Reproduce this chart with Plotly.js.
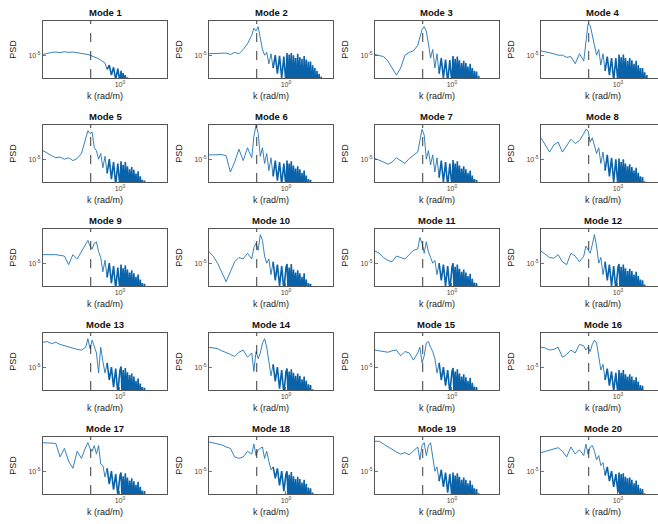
<!DOCTYPE html>
<html><head><meta charset="utf-8">
<script src="https://cdn.plot.ly/plotly-3.0.1.min.js"></script>
<style>html,body{margin:0;padding:0;overflow:hidden;background:#fff}#chart{width:670px;height:524px}</style>
</head><body><div id="chart"></div>
<script>
// wavenumber grid (rad/m)
const kValues = [
 0.1259, 0.1413, 0.1585, 0.1778, 0.1995, 0.2239, 0.2512, 0.2818, 0.3162, 0.3548, 0.3981,
 0.4217, 0.4467, 0.4732, 0.5012, 0.5309, 0.5623, 0.5957, 0.6310, 0.6683, 0.7079, 0.7499, 0.7943, 0.8414, 0.8913, 0.9441, 1.0,
 1.0292, 1.0593, 1.0902, 1.1220, 1.1548, 1.1885, 1.2232, 1.2589, 1.2957, 1.3335, 1.3725, 1.4125, 1.4538, 1.4962, 1.5399, 1.5849, 1.6312, 1.6788, 1.7278, 1.7783, 1.8302, 1.8836, 1.9387, 1.9953, 2.0535, 2.1135, 2.1752, 2.2387, 2.3041, 2.3714, 2.4406, 2.5119, 2.5852, 2.6607, 2.7384, 2.8184];

// reference wavenumber (dashed line)
const refK = 0.455;

const modeTitles = ['Mode 1','Mode 2','Mode 3','Mode 4','Mode 5','Mode 6','Mode 7','Mode 8','Mode 9','Mode 10',
 'Mode 11','Mode 12','Mode 13','Mode 14','Mode 15','Mode 16','Mode 17','Mode 18','Mode 19','Mode 20'];

// log10(PSD) for each mode, on kValues
const log10PsdMode1 = [-4.95,-4.85,-4.8,-4.78,-4.82,-4.76,-4.8,-4.78,-4.82,-4.85,-4.9,
 -4.95,-5.0,-5.05,-5.1,-5.18,-5.25,-5.35,-5.45,-5.55,-6.0,-5.7,-6.4,-5.85,-6.7,-5.95,-6.9,
 -6.1,-7.0,-6.25,-7.2,-6.4,-7.3,-6.55,-7.5,-6.7,-7.6,-6.85,-7.7,-7.0,-7.8,-7.1,-7.9,-7.2,-8.0,-7.3,-8.1,-7.4,-8.2,-7.5,-8.3,-7.6,-8.4,-7.7,-8.5,-7.8,-8.6,-7.9,-8.7,-8.0,-8.8,-8.1,-8.9];
const log10PsdMode2 = [-4.9,-4.9,-4.88,-4.9,-4.85,-4.95,-4.8,-4.9,-4.6,-4.2,-3.6,
 -3.1,-3.3,-3.0,-3.8,-4.6,-5.0,-4.8,-5.6,-4.9,-5.9,-5.0,-6.3,-5.05,-6.6,-5.1,-7.0,
 -4.85,-7.2,-4.95,-6.9,-4.85,-7.5,-5.0,-7.0,-5.2,-7.6,-4.9,-7.1,-5.15,-7.4,-5.25,-7.8,-5.05,-7.2,-5.3,-7.6,-5.45,-7.3,-5.45,-7.9,-5.7,-7.4,-5.9,-7.7,-6.1,-7.5,-6.3,-8.0,-6.5,-7.6,-6.7,-7.9];
const log10PsdMode3 = [-4.95,-5.0,-5.1,-5.4,-5.9,-6.4,-5.9,-5.0,-4.8,-4.7,-4.3,
 -3.7,-3.2,-3.0,-3.3,-4.2,-5.2,-4.6,-5.9,-4.9,-6.3,-5.2,-6.6,-5.3,-6.9,-5.35,-7.1,
 -5.05,-7.1,-5.25,-7.4,-5.1,-6.9,-5.35,-7.6,-5.55,-7.2,-5.4,-7.5,-5.55,-7.0,-5.8,-7.8,-5.6,-7.3,-5.9,-7.6,-6.1,-7.4,-6.15,-7.9,-6.45,-7.5,-6.65,-7.8,-6.85,-7.6,-7.0,-8.0,-7.1,-7.7,-7.2,-8.1];
const log10PsdMode4 = [-4.7,-4.75,-4.8,-4.9,-5.0,-5.0,-5.15,-5.1,-5.6,-4.9,-5.4,
 -4.0,-2.8,-2.9,-3.6,-4.5,-5.0,-4.6,-5.7,-4.9,-6.1,-5.1,-6.4,-5.2,-6.8,-5.2,-7.0,
 -4.95,-7.0,-5.15,-7.3,-4.95,-6.9,-5.2,-7.5,-5.4,-7.1,-5.2,-7.6,-5.35,-7.2,-5.6,-7.4,-5.4,-7.7,-5.7,-7.3,-5.9,-7.8,-5.9,-7.5,-6.2,-7.6,-6.4,-7.9,-6.6,-7.7,-6.75,-8.0,-6.9,-7.8,-7.0,-8.1];
const log10PsdMode5 = [-4.4,-4.6,-4.75,-4.9,-4.85,-5.0,-4.9,-5.1,-4.95,-4.6,-3.5,
 -3.0,-3.2,-3.1,-4.2,-4.4,-5.0,-4.6,-5.6,-4.8,-6.0,-5.0,-6.4,-5.2,-6.8,-5.3,-7.0,
 -5.15,-7.0,-5.4,-7.3,-5.2,-6.9,-5.5,-7.5,-5.7,-7.1,-5.55,-7.6,-5.75,-7.2,-6.0,-7.4,-5.85,-7.7,-6.2,-7.3,-6.45,-7.8,-6.5,-7.5,-6.8,-7.6,-6.95,-7.9,-7.1,-7.7,-7.2,-8.0,-7.3,-7.8,-7.4,-8.1];
const log10PsdMode6 = [-4.7,-4.7,-4.72,-4.68,-4.75,-5.9,-5.2,-4.3,-5.1,-4.2,-4.9,
 -3.4,-2.6,-3.2,-4.8,-4.2,-5.3,-4.6,-5.8,-4.9,-6.2,-5.1,-6.5,-5.2,-6.8,-5.3,-7.0,
 -5.1,-7.1,-5.3,-6.9,-5.15,-7.4,-5.45,-7.0,-5.65,-7.5,-5.5,-7.2,-5.7,-7.6,-5.95,-7.3,-5.8,-7.5,-6.15,-7.8,-6.4,-7.4,-6.45,-7.9,-6.75,-7.6,-6.9,-7.8,-7.05,-8.0,-7.15,-7.9,-7.25,-8.1,-7.35,-8.2];
const log10PsdMode7 = [-4.95,-5.05,-5.2,-5.35,-5.2,-4.9,-5.1,-5.3,-4.95,-4.7,-4.5,
 -3.7,-2.9,-3.3,-5.0,-4.4,-5.4,-4.7,-5.9,-4.9,-6.3,-5.1,-6.6,-5.2,-6.9,-5.3,-7.0,
 -5.05,-6.9,-5.3,-7.3,-5.15,-7.0,-5.45,-7.5,-5.65,-7.1,-5.5,-7.6,-5.7,-7.2,-5.95,-7.4,-5.8,-7.7,-6.15,-7.3,-6.4,-7.8,-6.45,-7.5,-6.75,-7.6,-6.9,-7.9,-7.05,-7.7,-7.15,-8.0,-7.25,-7.8,-7.35,-8.1];
const log10PsdMode8 = [-3.5,-4.0,-4.5,-4.0,-3.8,-4.5,-4.0,-3.6,-3.9,-3.7,-3.2,
 -2.9,-3.0,-3.8,-3.5,-4.0,-4.6,-4.2,-5.3,-4.5,-5.8,-4.7,-6.2,-4.9,-6.6,-5.0,-7.0,
 -4.95,-7.0,-5.2,-7.3,-5.0,-6.9,-5.3,-7.5,-5.5,-7.1,-5.35,-7.6,-5.55,-7.2,-5.8,-7.4,-5.6,-7.7,-5.95,-7.3,-6.2,-7.8,-6.25,-7.5,-6.55,-7.6,-6.75,-7.9,-6.95,-7.7,-7.1,-8.0,-7.2,-7.8,-7.3,-8.1];
const log10PsdMode9 = [-4.4,-4.4,-4.35,-4.4,-4.45,-4.5,-5.1,-4.4,-4.7,-4.2,-3.7,
 -3.4,-3.8,-4.0,-3.6,-3.5,-4.2,-4.6,-5.6,-4.8,-6.0,-5.0,-6.4,-5.2,-6.8,-5.3,-7.0,
 -5.1,-7.0,-5.35,-7.3,-5.15,-6.9,-5.45,-7.5,-5.65,-7.1,-5.5,-7.6,-5.7,-7.2,-5.95,-7.4,-5.8,-7.7,-6.15,-7.3,-6.4,-7.8,-6.45,-7.5,-6.75,-7.6,-6.9,-7.9,-7.05,-7.7,-7.15,-8.0,-7.25,-7.8,-7.35,-8.1];
const log10PsdMode10 = [-4.2,-4.5,-5.0,-5.6,-6.3,-5.6,-4.9,-4.6,-4.7,-4.3,-4.7,
 -3.9,-3.6,-4.1,-3.0,-3.4,-4.5,-5.0,-4.7,-5.8,-4.9,-6.2,-5.1,-6.6,-5.2,-6.9,-5.3,
 -5.05,-7.1,-5.3,-6.9,-5.05,-7.4,-5.45,-7.0,-5.65,-7.5,-5.5,-7.2,-5.7,-7.6,-5.95,-7.3,-5.7,-7.5,-6.15,-7.8,-6.4,-7.4,-6.45,-7.9,-6.75,-7.6,-6.9,-7.8,-7.05,-8.0,-7.15,-7.9,-7.25,-8.1,-7.35,-8.2];
const log10PsdMode11 = [-4.15,-4.3,-4.6,-4.8,-4.9,-4.5,-4.6,-4.7,-4.4,-4.1,-4.0,
 -3.2,-3.6,-4.3,-3.5,-4.2,-4.6,-5.0,-4.8,-5.8,-5.0,-6.2,-5.1,-6.6,-5.2,-6.9,-5.3,
 -5.0,-6.9,-5.25,-7.3,-5.1,-7.0,-5.4,-7.5,-5.6,-7.1,-5.45,-7.6,-5.65,-7.2,-5.9,-7.4,-5.75,-7.7,-6.1,-7.3,-6.35,-7.8,-6.4,-7.5,-6.7,-7.6,-6.85,-7.9,-7.0,-7.7,-7.1,-8.0,-7.2,-7.8,-7.3,-8.1];
const log10PsdMode12 = [-4.15,-4.4,-4.6,-4.65,-4.4,-4.9,-5.1,-4.3,-4.5,-4.9,-4.5,
 -3.8,-4.1,-4.3,-3.7,-3.0,-3.8,-5.0,-4.6,-5.8,-4.9,-6.2,-5.1,-6.6,-5.2,-6.9,-5.3,
 -5.05,-7.0,-5.25,-7.3,-5.1,-6.9,-5.35,-7.5,-5.55,-7.1,-5.4,-7.6,-5.55,-7.2,-5.8,-7.4,-5.6,-7.7,-5.9,-7.3,-6.15,-7.8,-6.2,-7.5,-6.5,-7.6,-6.7,-7.9,-6.9,-7.7,-7.0,-8.0,-7.1,-7.8,-7.2,-8.1];
const log10PsdMode13 = [-3.25,-3.2,-3.35,-3.25,-3.4,-3.5,-3.6,-3.7,-3.75,-3.8,-3.6,
 -3.0,-3.7,-3.1,-3.6,-4.0,-5.4,-3.6,-4.6,-5.4,-4.7,-5.9,-5.0,-6.4,-5.1,-6.8,-5.2,
 -4.95,-7.0,-5.2,-7.3,-5.05,-6.9,-5.35,-7.5,-5.55,-7.1,-5.45,-7.6,-5.65,-7.2,-5.95,-7.4,-5.8,-7.7,-6.15,-7.3,-6.4,-7.8,-6.45,-7.5,-6.75,-7.6,-6.9,-7.9,-7.05,-7.7,-7.15,-8.0,-7.25,-7.8,-7.35,-8.1];
const log10PsdMode14 = [-3.6,-3.65,-3.7,-3.85,-3.95,-4.1,-4.25,-3.95,-3.8,-4.3,-4.0,
 -5.3,-3.9,-4.4,-4.0,-3.3,-3.0,-3.6,-4.6,-5.6,-4.8,-6.0,-5.0,-6.5,-5.2,-6.9,-5.3,
 -5.1,-7.1,-5.3,-6.9,-5.15,-7.4,-5.4,-7.0,-5.6,-7.5,-5.45,-7.2,-5.6,-7.6,-5.85,-7.3,-5.65,-7.5,-5.95,-7.8,-6.2,-7.4,-6.25,-7.9,-6.55,-7.6,-6.75,-7.8,-6.95,-8.0,-7.05,-7.9,-7.15,-8.1,-7.25,-8.2];
const log10PsdMode15 = [-3.8,-3.85,-3.9,-3.95,-3.85,-3.8,-4.2,-3.9,-4.0,-4.5,-4.0,
 -3.6,-4.7,-4.2,-3.3,-3.2,-3.6,-3.9,-4.4,-5.4,-4.7,-5.9,-5.0,-6.3,-5.2,-6.8,-5.3,
 -5.05,-7.0,-5.3,-7.3,-5.15,-6.9,-5.45,-7.5,-5.65,-7.1,-5.5,-7.6,-5.7,-7.2,-5.95,-7.4,-5.75,-7.7,-6.1,-7.3,-6.35,-7.8,-6.4,-7.5,-6.7,-7.6,-6.85,-7.9,-7.0,-7.7,-7.1,-8.0,-7.2,-7.8,-7.3,-8.1];
const log10PsdMode16 = [-3.6,-3.65,-3.8,-3.75,-3.6,-4.3,-4.1,-3.8,-4.0,-3.4,-3.5,
 -3.8,-3.6,-3.9,-3.4,-3.1,-3.3,-4.4,-5.2,-4.8,-5.9,-5.1,-6.3,-5.3,-6.7,-5.4,-7.0,
 -5.2,-7.1,-5.4,-6.9,-5.2,-7.4,-5.5,-7.0,-5.65,-7.5,-5.5,-7.2,-5.65,-7.6,-5.9,-7.3,-5.7,-7.5,-6.0,-7.8,-6.25,-7.4,-6.3,-7.9,-6.6,-7.6,-6.8,-7.8,-7.0,-8.0,-7.1,-7.9,-7.2,-8.1,-7.3,-8.2];
const log10PsdMode17 = [-3.0,-3.0,-3.0,-3.05,-4.0,-3.4,-4.3,-4.8,-3.6,-4.1,-3.3,
 -3.0,-3.4,-3.6,-3.2,-3.8,-3.2,-4.5,-4.6,-5.4,-4.8,-5.9,-5.0,-6.3,-5.2,-6.7,-5.3,
 -5.1,-7.0,-5.35,-7.3,-5.15,-6.9,-5.45,-7.5,-5.65,-7.1,-5.5,-7.6,-5.7,-7.2,-5.95,-7.4,-5.75,-7.7,-6.1,-7.3,-6.35,-7.8,-6.4,-7.5,-6.7,-7.6,-6.85,-7.9,-7.0,-7.7,-7.1,-8.0,-7.2,-7.8,-7.3,-8.1];
const log10PsdMode18 = [-2.95,-3.0,-3.05,-3.15,-3.3,-3.4,-4.0,-4.1,-4.0,-3.6,-3.8,
 -3.1,-3.9,-3.5,-3.4,-3.3,-4.1,-3.6,-4.3,-4.9,-4.7,-5.5,-4.8,-6.0,-5.0,-6.4,-5.2,
 -5.0,-7.1,-5.25,-6.9,-5.05,-7.4,-5.35,-7.0,-5.55,-7.5,-5.4,-7.2,-5.55,-7.6,-5.8,-7.3,-5.6,-7.5,-5.9,-7.8,-6.15,-7.4,-6.2,-7.9,-6.5,-7.6,-6.7,-7.8,-6.9,-8.0,-7.0,-7.9,-7.1,-8.1,-7.2,-8.2];
const log10PsdMode19 = [-2.9,-2.9,-3.1,-3.3,-3.45,-3.65,-3.8,-3.7,-3.85,-3.6,-3.3,
 -4.2,-3.2,-3.0,-3.9,-3.2,-3.0,-4.0,-5.0,-4.7,-5.7,-4.9,-6.1,-5.1,-6.5,-5.2,-6.9,
 -5.1,-7.0,-5.3,-7.3,-5.15,-6.9,-5.4,-7.5,-5.6,-7.1,-5.45,-7.6,-5.6,-7.2,-5.85,-7.4,-5.65,-7.7,-5.95,-7.3,-6.2,-7.8,-6.25,-7.5,-6.55,-7.6,-6.75,-7.9,-6.95,-7.7,-7.05,-8.0,-7.15,-7.8,-7.25,-8.1];
const log10PsdMode20 = [-3.7,-3.6,-3.5,-3.45,-3.35,-3.6,-4.0,-3.3,-3.8,-3.5,-3.9,
 -3.1,-3.8,-3.3,-3.2,-3.6,-4.2,-3.9,-4.6,-4.4,-5.3,-4.7,-5.7,-5.0,-6.1,-5.2,-6.5,
 -5.1,-7.1,-5.2,-6.9,-5.15,-7.4,-5.4,-7.0,-5.5,-7.5,-5.45,-7.2,-5.6,-7.6,-5.85,-7.3,-5.65,-7.5,-5.95,-7.8,-6.2,-7.4,-6.25,-7.9,-6.55,-7.6,-6.75,-7.8,-6.95,-8.0,-7.05,-7.9,-7.15,-8.1,-7.25,-8.2];

const allModes = [log10PsdMode1,log10PsdMode2,log10PsdMode3,log10PsdMode4,log10PsdMode5,
 log10PsdMode6,log10PsdMode7,log10PsdMode8,log10PsdMode9,log10PsdMode10,
 log10PsdMode11,log10PsdMode12,log10PsdMode13,log10PsdMode14,log10PsdMode15,
 log10PsdMode16,log10PsdMode17,log10PsdMode18,log10PsdMode19,log10PsdMode20];

// ---- layout geometry (pixels) ----
const FIG_W = 670, FIG_H = 524;
const colLeft = [43, 209, 375, 541], boxW = 124;
const rowTop = [21, 125, 229, 333, 437], boxH = 57;
const FONT = 'Liberation Sans, Arial, Helvetica, sans-serif';
const AXC = '#555';
const DENSE_FROM = 20;   // index where the densely sampled part starts (drawn a little heavier)

const traces = [];
const layout = {
  width: FIG_W, height: FIG_H,
  margin: {l:0, r:0, t:0, b:0},
  paper_bgcolor: '#fff', plot_bgcolor: '#fff',
  showlegend: false,
  font: {family: FONT, color: '#333'},
  shapes: [], annotations: []
};

allModes.forEach((vals, idx) => {
  const i = idx + 1;
  const r = Math.floor(idx / 4), c = idx % 4;
  const xs = i === 1 ? 'x' : 'x' + i;
  const ys = i === 1 ? 'y' : 'y' + i;
  const psd = vals.map(v => Math.pow(10, v));
  traces.push({
    type: 'scatter', mode: 'lines',
    x: kValues.slice(0, DENSE_FROM + 1), y: psd.slice(0, DENSE_FROM + 1),
    xaxis: xs, yaxis: ys,
    line: {color: '#1f74b8', width: 0.9},
    hoverinfo: 'skip'
  });
  traces.push({
    type: 'scatter', mode: 'lines',
    x: kValues.slice(DENSE_FROM), y: psd.slice(DENSE_FROM),
    xaxis: xs, yaxis: ys,
    line: {color: '#0a62a8', width: 1.6},
    hoverinfo: 'skip'
  });
  const x0 = colLeft[c] / FIG_W, x1 = (colLeft[c] + boxW) / FIG_W;
  const y1 = 1 - rowTop[r] / FIG_H, y0 = 1 - (rowTop[r] + boxH) / FIG_H;
  layout[i === 1 ? 'xaxis' : 'xaxis' + i] = {
    type: 'log', range: [-0.9, 0.55], domain: [x0, x1], anchor: ys,
    showline: true, mirror: true, linecolor: AXC, linewidth: 1,
    ticks: 'inside', ticklen: 3, tickcolor: AXC, tickwidth: 0.8,
    tickvals: [1], ticktext: ['10<sup>0</sup>'], tickfont: {size: 7, color: '#444', family: FONT},
    showgrid: false, zeroline: false, automargin: false, fixedrange: true,
    title: {text: 'k (rad/m)', font: {size: 9, color: '#222', family: FONT}, standoff: 5}
  };
  layout[i === 1 ? 'yaxis' : 'yaxis' + i] = {
    type: 'log', range: [-6.6, -2.6], domain: [y0, y1], anchor: xs,
    showline: true, mirror: true, linecolor: AXC, linewidth: 1,
    ticks: 'inside', ticklen: 3, tickcolor: AXC, tickwidth: 0.8,
    tickvals: [1e-5], ticktext: ['10<sup>-5</sup>'], tickfont: {size: 7, color: '#444', family: FONT},
    showgrid: false, zeroline: false, automargin: false, fixedrange: true,
    title: {text: 'PSD', font: {size: 9, color: '#222', family: FONT}, standoff: 10}
  };
  layout.shapes.push({
    type: 'line', xref: xs, yref: ys + ' domain',
    x0: refK, x1: refK, y0: 0, y1: 1,
    line: {color: '#222', width: 0.9, dash: 'dash'}
  });
  layout.annotations.push({
    xref: 'paper', yref: 'paper', x: (x0 + x1) / 2, y: y1,
    xanchor: 'center', yanchor: 'bottom', yshift: 1, showarrow: false,
    text: '<b>' + modeTitles[idx] + '</b>',
    font: {size: 9.5, color: '#111', family: FONT}
  });
});

Plotly.newPlot('chart', traces, layout, {staticPlot: true, displayModeBar: false});
</script></body></html>
